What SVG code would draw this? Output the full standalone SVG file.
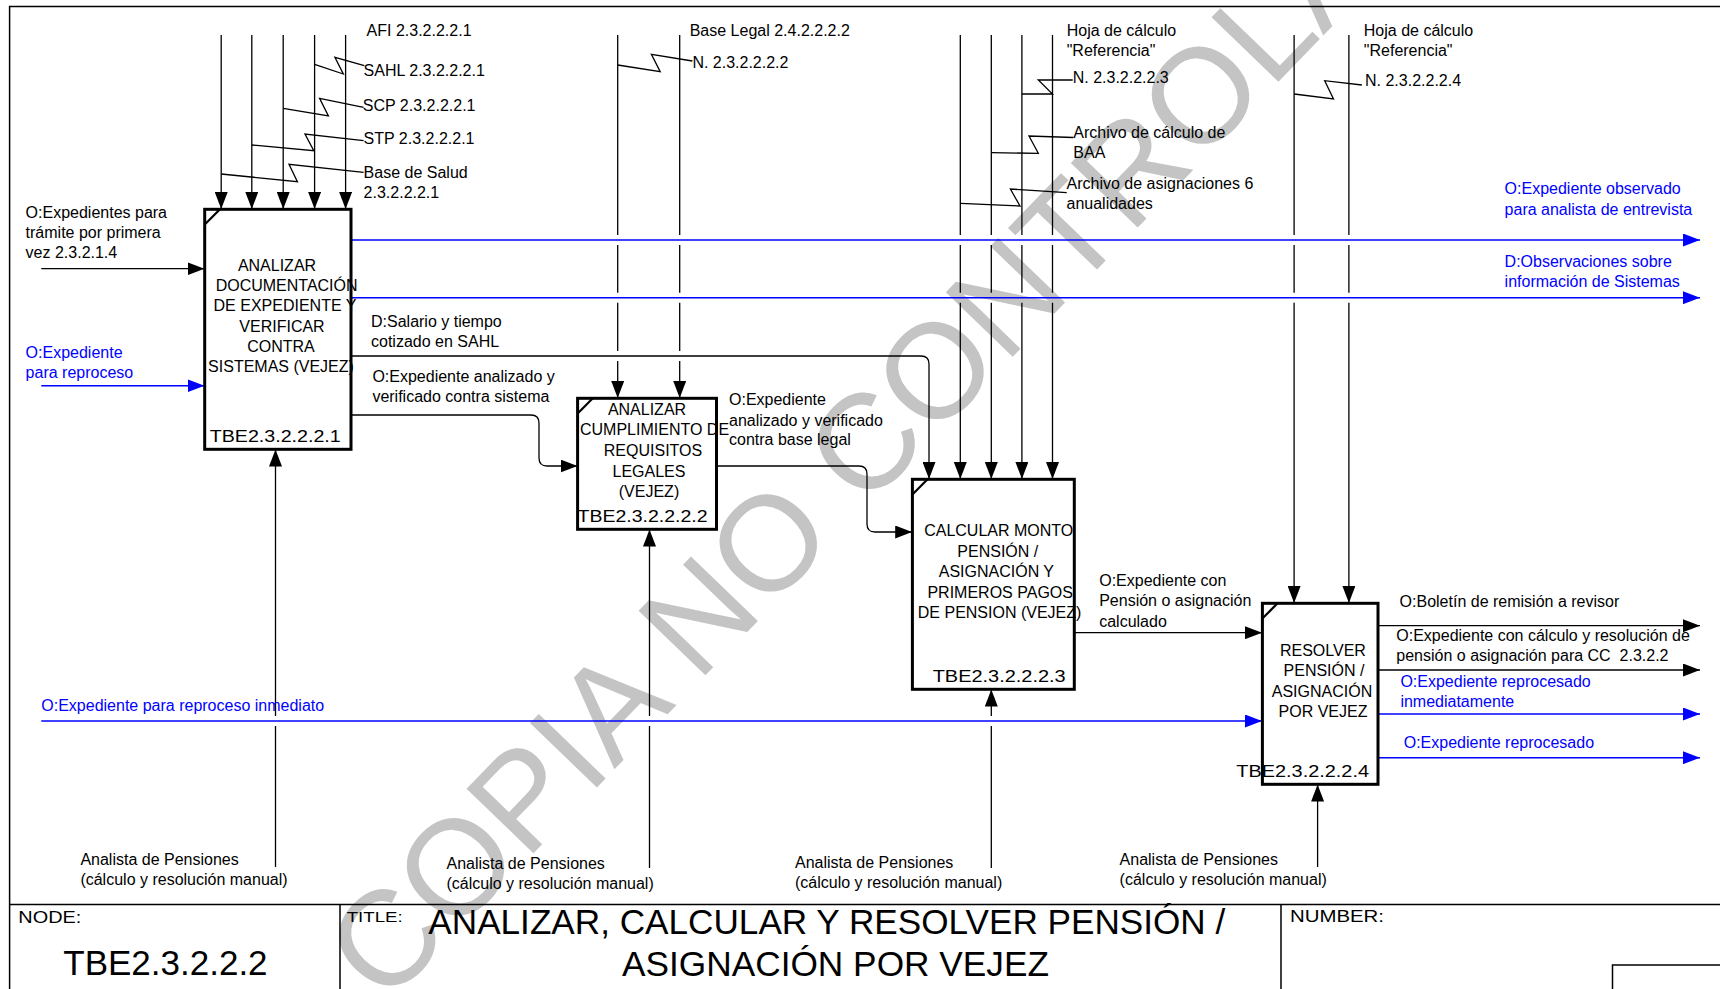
<svg xmlns="http://www.w3.org/2000/svg" width="1720" height="989" viewBox="0 0 1720 989">
<defs>
<style>
text{font-family:"Liberation Sans",Arial,sans-serif;font-size:16px;fill:#000}
.b{fill:#0000ff}
.m{text-anchor:middle}
.ln{stroke:#000;stroke-width:1.3;fill:none}
.bl{stroke:#0000ff;stroke-width:1.6;fill:none}
.box{fill:#fff;stroke:#000;stroke-width:3}
.cn{stroke:#000;stroke-width:2.2;fill:none}
.fr{stroke:#000;stroke-width:1.5;fill:none}
.wm{font-size:135px;fill:#c4c4c4}
</style>
<marker id="ah" markerWidth="17" markerHeight="13" refX="17" refY="6.5" orient="auto" markerUnits="userSpaceOnUse"><path d="M0,0 L17,6.5 L0,13 z" fill="#000"/></marker>
<marker id="ahb" markerWidth="17" markerHeight="13" refX="17" refY="6.5" orient="auto" markerUnits="userSpaceOnUse"><path d="M0,0 L17,6.5 L0,13 z" fill="#0000ff"/></marker>
</defs>
<rect width="1720" height="989" fill="#fff"/>
<text class="wm" transform="translate(385,1007) rotate(-46)">COPIA NO CONTROLADA</text>

<g id="frame">
<path class="fr" d="M9.6,989 V6.5 H1720"/>
<path class="fr" d="M9.6,904.5 H1720 M340,904.5 V989 M1281,904.5 V989 M1612.5,989 V965 H1720"/>
<text x="18.3" y="923" textLength="63" lengthAdjust="spacingAndGlyphs">NODE:</text>
<text x="63.3" y="975" style="font-size:35px">TBE2.3.2.2.2</text>
<text x="346.7" y="922" style="font-size:15px" textLength="56" lengthAdjust="spacingAndGlyphs">TITLE:</text>
<text x="428.3" y="934" style="font-size:35px" textLength="797" lengthAdjust="spacingAndGlyphs">ANALIZAR, CALCULAR Y RESOLVER PENSIÓN /</text>
<text x="622" y="976" style="font-size:35px" textLength="427" lengthAdjust="spacingAndGlyphs">ASIGNACIÓN POR VEJEZ</text>
<text x="1290" y="922" textLength="94" lengthAdjust="spacingAndGlyphs">NUMBER:</text>
</g>

<g id="connectors">
<!-- box1 controls -->
<path class="ln" marker-end="url(#ah)" d="M221.2,35 V209"/>
<path class="ln" marker-end="url(#ah)" d="M251.8,35 V209"/>
<path class="ln" marker-end="url(#ah)" d="M283.2,35 V209"/>
<path class="ln" marker-end="url(#ah)" d="M314.6,35 V209"/>
<path class="ln" marker-end="url(#ah)" d="M345.6,35 V209"/>
<polyline class="ln" points="314.6,64.3 343.3,74 334.9,57.3 364.3,65.7"/>
<polyline class="ln" points="283.2,108.3 328.4,116 319.6,98.3 363.6,107.3"/>
<polyline class="ln" points="251.8,145 313.8,150.7 305,134 363.6,140.7"/>
<polyline class="ln" points="221.2,174 297.4,181.7 289,164.3 363.6,172.3"/>
<!-- box2 controls -->
<path class="ln" marker-end="url(#ah)" d="M617.7,35 V235 M617.7,245 V292.7 M617.7,302.7 V351 M617.7,361 V398"/>
<path class="ln" marker-end="url(#ah)" d="M679.7,35 V235 M679.7,245 V292.7 M679.7,302.7 V351 M679.7,361 V398"/>
<polyline class="ln" points="617.7,65 660.2,71.7 651.4,54.3 692.4,61"/>
<!-- box3 controls -->
<path class="ln" marker-end="url(#ah)" d="M960.3,35 V235 M960.3,245 V292.7 M960.3,302.7 V479"/>
<path class="ln" marker-end="url(#ah)" d="M991.3,35 V235 M991.3,245 V292.7 M991.3,302.7 V479"/>
<path class="ln" marker-end="url(#ah)" d="M1021.9,35 V235 M1021.9,245 V292.7 M1021.9,302.7 V479"/>
<path class="ln" marker-end="url(#ah)" d="M1052.5,35 V235 M1052.5,245 V292.7 M1052.5,302.7 V479"/>
<polyline class="ln" points="1021.9,94 1052.5,94 1038.3,80 1072.7,80"/>
<polyline class="ln" points="991.3,152.7 1038.3,153.3 1029,136 1073.3,137.5"/>
<polyline class="ln" points="960.3,203.3 1020,206 1010.4,189 1066.7,192.7"/>
<!-- box4 controls -->
<path class="ln" marker-end="url(#ah)" d="M1294.1,35 V235 M1294.1,245 V292.7 M1294.1,302.7 V603"/>
<path class="ln" marker-end="url(#ah)" d="M1348.9,35 V235 M1348.9,245 V292.7 M1348.9,302.7 V603"/>
<polyline class="ln" points="1294.1,94 1333.5,99 1324.7,80.7 1361.9,85"/>
<!-- inputs -->
<path class="ln" marker-end="url(#ah)" d="M41.3,268.7 H204.5"/>
<path class="bl" marker-end="url(#ahb)" d="M41.3,385.7 H204.5"/>
<path class="bl" marker-end="url(#ahb)" d="M41.3,721 H1262"/>
<!-- box1 outputs -->
<path class="bl" marker-end="url(#ahb)" d="M351,240 H1700"/>
<path class="bl" marker-end="url(#ahb)" d="M351,297.7 H1700"/>
<path class="ln" marker-end="url(#ah)" d="M351,356 H921 Q929,356 929,364 V479"/>
<path class="ln" marker-end="url(#ah)" d="M351,415 H531 Q539,415 539,423 V458 Q539,466 547,466 H577.5"/>
<!-- box2 -> box3 -->
<path class="ln" marker-end="url(#ah)" d="M716.5,466 H859 Q867,466 867,474 V524 Q867,532 875,532 H912.2"/>
<!-- box3 -> box4 -->
<path class="ln" marker-end="url(#ah)" d="M1074.3,632.7 H1262"/>
<!-- box4 outputs -->
<path class="ln" marker-end="url(#ah)" d="M1378,625.7 H1700"/>
<path class="ln" marker-end="url(#ah)" d="M1378,670 H1700"/>
<path class="bl" marker-end="url(#ahb)" d="M1378,714 H1700"/>
<path class="bl" marker-end="url(#ahb)" d="M1378,757.7 H1700"/>
<!-- mechanisms -->
<path class="ln" marker-end="url(#ah)" d="M275.5,867 V726 M275.5,716 V449.5"/>
<path class="ln" marker-end="url(#ah)" d="M649.5,868 V726 M649.5,716 V529.5"/>
<path class="ln" marker-end="url(#ah)" d="M991.3,868 V726 M991.3,716 V689.5"/>
<path class="ln" marker-end="url(#ah)" d="M1317.6,867 V784.5"/>
</g>

<g id="labels">
<text x="366.6" y="36">AFI 2.3.2.2.2.1</text>
<text x="363.6" y="76">SAHL 2.3.2.2.2.1</text>
<text x="362.8" y="111">SCP 2.3.2.2.2.1</text>
<text x="363.6" y="144">STP 2.3.2.2.2.1</text>
<text x="363.6" y="178">Base de Salud</text>
<text x="363.6" y="197.7">2.3.2.2.2.1</text>
<text x="689.7" y="36">Base Legal 2.4.2.2.2.2</text>
<text x="692.4" y="67.7">N. 2.3.2.2.2.2</text>
<text x="1066.7" y="36">Hoja de cálculo</text>
<text x="1066.7" y="56">"Referencia"</text>
<text x="1072.7" y="83.3">N. 2.3.2.2.2.3</text>
<text x="1073.3" y="138">Archivo de cálculo de</text>
<text x="1073.3" y="158">BAA</text>
<text x="1066.5" y="189">Archivo de asignaciones 6</text>
<text x="1066.5" y="209">anualidades</text>
<text x="1363.8" y="36">Hoja de cálculo</text>
<text x="1363.8" y="56">"Referencia"</text>
<text x="1365" y="86">N. 2.3.2.2.2.4</text>
<text x="25.6" y="218">O:Expedientes para</text>
<text x="25.6" y="238">trámite por primera</text>
<text x="25.6" y="258">vez 2.3.2.1.4</text>
<text class="b" x="25.6" y="358">O:Expediente</text>
<text class="b" x="25.6" y="378">para reproceso</text>
<text x="371" y="326.7">D:Salario y tiempo</text>
<text x="371" y="346.7">cotizado en SAHL</text>
<text x="372.4" y="382">O:Expediente analizado y</text>
<text x="372.4" y="401.7">verificado contra sistema</text>
<text x="729" y="405">O:Expediente</text>
<text x="729" y="425.7">analizado y verificado</text>
<text x="729" y="445">contra base legal</text>
<text x="1099.2" y="586">O:Expediente con</text>
<text x="1099.2" y="606">Pensión o asignación</text>
<text x="1099.2" y="626.7">calculado</text>
<text class="b" x="1504.6" y="194">O:Expediente observado</text>
<text class="b" x="1504.6" y="215">para analista de entrevista</text>
<text class="b" x="1504.6" y="266.7">D:Observaciones sobre</text>
<text class="b" x="1504.6" y="287.3">información de Sistemas</text>
<text x="1399.6" y="607.3">O:Boletín de remisión a revisor</text>
<text x="1396.3" y="640.7">O:Expediente con cálculo y resolución de</text>
<text x="1396.3" y="661" xml:space="preserve">pensión o asignación para CC  2.3.2.2</text>
<text class="b" x="1400.4" y="686.7">O:Expediente reprocesado</text>
<text class="b" x="1400.4" y="706.7">inmediatamente</text>
<text class="b" x="1403.7" y="748.3">O:Expediente reprocesado</text>
<text class="b" x="41.3" y="710.7">O:Expediente para reproceso inmediato</text>
<text x="80.4" y="865">Analista de Pensiones</text>
<text x="80.4" y="885">(cálculo y resolución manual)</text>
<text x="446.5" y="868.7">Analista de Pensiones</text>
<text x="446.5" y="888.5">(cálculo y resolución manual)</text>
<text x="795" y="868.3">Analista de Pensiones</text>
<text x="795" y="888.3">(cálculo y resolución manual)</text>
<text x="1119.6" y="865">Analista de Pensiones</text>
<text x="1119.6" y="885">(cálculo y resolución manual)</text>
</g>

<g id="node1">
<rect class="box" x="204.7" y="209.3" width="146.3" height="240"/>
<line class="cn" x1="204.7" y1="224.5" x2="220" y2="209.3"/>
<text class="m" x="277" y="270.7">ANALIZAR</text>
<text class="m" x="286.6" y="291">DOCUMENTACIÓN</text>
<text class="m" x="285" y="311">DE EXPEDIENTE Y</text>
<text class="m" x="282" y="331.7">VERIFICAR</text>
<text class="m" x="281" y="352.3">CONTRA</text>
<text class="m" x="281" y="372.3">SISTEMAS (VEJEZ)</text>
<text x="209.7" y="441.7" style="font-size:17px" textLength="131" lengthAdjust="spacingAndGlyphs">TBE2.3.2.2.2.1</text>
</g>

<g id="node2">
<rect class="box" x="577.6" y="398.3" width="138.9" height="131"/>
<line class="cn" x1="577.6" y1="413.5" x2="592.8" y2="398.3"/>
<text class="m" x="647" y="415">ANALIZAR</text>
<text x="580" y="435">CUMPLIMIENTO DE</text>
<text class="m" x="653" y="456">REQUISITOS</text>
<text class="m" x="649" y="476.7">LEGALES</text>
<text class="m" x="649" y="497.3">(VEJEZ)</text>
<text x="577.6" y="521.7" style="font-size:17px" textLength="130" lengthAdjust="spacingAndGlyphs">TBE2.3.2.2.2.2</text>
</g>

<g id="node3">
<rect class="box" x="912.4" y="479.3" width="161.9" height="210"/>
<line class="cn" x1="912.4" y1="494.5" x2="927.6" y2="479.3"/>
<text class="m" x="998.7" y="536">CALCULAR MONTO</text>
<text class="m" x="997.8" y="556.7">PENSIÓN /</text>
<text class="m" x="996.4" y="577.3">ASIGNACIÓN Y</text>
<text class="m" x="1000.2" y="597.7">PRIMEROS PAGOS</text>
<text class="m" x="999.6" y="618.3">DE PENSION (VEJEZ)</text>
<text x="932.7" y="681.7" style="font-size:17px" textLength="133" lengthAdjust="spacingAndGlyphs">TBE2.3.2.2.2.3</text>
</g>

<g id="node4">
<rect class="box" x="1262.4" y="603.3" width="115.6" height="181"/>
<line class="cn" x1="1262.4" y1="618.5" x2="1277.6" y2="603.3"/>
<text class="m" x="1322.9" y="656">RESOLVER</text>
<text class="m" x="1324" y="675.7">PENSIÓN /</text>
<text class="m" x="1322" y="696.7">ASIGNACIÓN</text>
<text class="m" x="1323" y="716.7">POR VEJEZ</text>
<text x="1236.3" y="776.7" style="font-size:17px" textLength="132.7" lengthAdjust="spacingAndGlyphs">TBE2.3.2.2.2.4</text>
</g>
</svg>
